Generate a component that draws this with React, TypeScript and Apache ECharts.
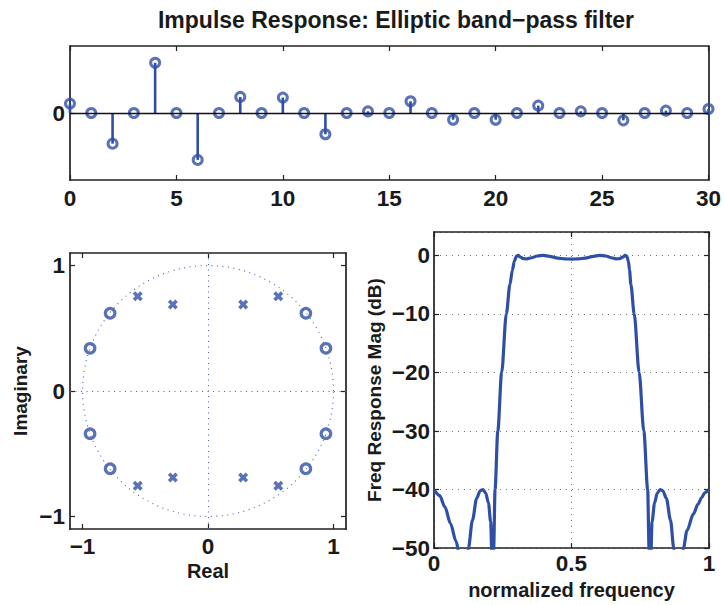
import React, { useEffect, useRef } from "react";
import * as echarts from "echarts";

// ---------- data ----------
const stemN = [0, 1, 2, 3, 4, 5, 6, 7, 8, 9, 10, 11, 12, 13, 14, 15, 16, 17, 18, 19, 20, 21, 22, 23, 24, 25, 26, 27, 28, 29, 30];
const stemH = [0.056, 0, -0.183, 0, 0.3, 0, -0.28, 0, 0.096, 0, 0.092, 0, -0.127, 0, 0.01, 0, 0.07, 0, -0.04, 0, -0.04, 0, 0.044, 0, 0.01, 0, -0.044, 0, 0.014, 0, 0.024];

const zerosRe = [0.94, 0.78, -0.78, -0.94, -0.94, -0.78, 0.78, 0.94];
const zerosIm = [0.34, 0.62, 0.62, 0.34, -0.34, -0.62, -0.62, -0.34];
const polesRe = [0.56, 0.28, -0.28, -0.56, -0.56, -0.28, 0.28, 0.56];
const polesIm = [0.755, 0.69, 0.69, 0.755, -0.755, -0.69, -0.69, -0.755];

const freqF = [
  0.0, 0.02, 0.04, 0.06, 0.08, 0.092, 0.105, 0.118, 0.125, 0.14, 0.155, 0.168, 0.178, 0.188, 0.198, 0.206, 0.211, 0.214, 0.217,
  0.222, 0.232, 0.246, 0.263, 0.276, 0.285, 0.292, 0.3, 0.306, 0.315, 0.325, 0.338, 0.355, 0.375, 0.398, 0.42, 0.45, 0.475, 0.5,
  0.525, 0.55, 0.58, 0.602, 0.625, 0.645, 0.662, 0.675, 0.686, 0.695, 0.701, 0.707, 0.711, 0.716, 0.728, 0.746, 0.763, 0.777,
  0.782, 0.785, 0.788, 0.793, 0.802, 0.812, 0.822, 0.832, 0.845, 0.86, 0.872, 0.888, 0.907, 0.92, 0.943, 0.96, 0.973, 0.985, 1.0,
];
const freqDb = [
  -40, -41, -43, -45.8, -48.8, -51, -75, -52, -50, -45.2, -41.5, -40.2, -40, -40.6, -42.3, -45.5, -52, -75, -50,
  -40, -30, -20, -10, -5, -2.5, -1, -0.1, 0, -0.3, -0.55, -0.6, -0.4, -0.1, 0, -0.15, -0.45, -0.6, -0.62,
  -0.6, -0.45, -0.15, 0, -0.1, -0.4, -0.6, -0.55, -0.3, 0, -0.1, -1, -2.5, -5, -10, -20, -30, -40,
  -50, -75, -52, -45.5, -42.3, -40.6, -40, -40.2, -41.5, -45.2, -50, -75, -50, -47, -44.2, -42.5, -41.4, -40.5, -40,
];

const zTicks = [-1, 0, 1];

// ---------- styles ----------
const BLUE = "#2f4fa6";
const AX = "#222";
const FONT = "Liberation Sans, Arial, sans-serif";
const fmt = (v: number) => (v < 0 ? "\u2212" + String(Math.abs(v)) : String(v));

const axLine = { show: true, onZero: false, lineStyle: { color: AX, width: 1.7 } };
const tick = { show: true, inside: true, length: 5, lineStyle: { color: AX, width: 1.2 } };
const lbl = (margin: number) => ({ show: true, color: "#1a1a1a", fontSize: 22.5, fontWeight: "bold" as const, fontFamily: FONT, margin, formatter: fmt });
const nameX = { color: "#1a1a1a", fontSize: 20, fontWeight: "bold" as const, fontFamily: FONT };
const nameY = { color: "#1a1a1a", fontSize: 19, fontWeight: "bold" as const, fontFamily: FONT };

export default function App() {
  const ref = useRef<HTMLDivElement>(null);
  useEffect(() => {
    if (!ref.current) return;
    const chart = echarts.init(ref.current, null, { renderer: "svg" });

    // unit-circle guide for the pole/zero plot
    const circle: number[][] = [];
    for (let i = 0; i <= 180; i++) {
      const a = (i / 180) * 2 * Math.PI;
      circle.push([Math.cos(a), Math.sin(a)]);
    }

    const option: any = {
      animation: false,
      backgroundColor: "#fff",
      textStyle: { fontFamily: FONT },
      title: {
        text: "Impulse Response: Elliptic band\u2212pass filter",
        left: 396,
        top: 8,
        textAlign: "center",
        padding: 0,
        textStyle: { fontSize: 23, fontWeight: "bold", color: "#1a1a1a", fontFamily: FONT },
      },
      grid: [
        { left: 70, top: 46, width: 639, height: 134 },
        { left: 70, top: 253, width: 276, height: 276 },
        { left: 434, top: 232, width: 275, height: 319 },
      ],
      xAxis: [
        {
          gridIndex: 0, type: "value", position: "bottom", min: 0, max: 30, interval: 5,
          axisLine: axLine, axisTick: tick, axisLabel: lbl(7), splitLine: { show: false },
        },
        {
          gridIndex: 0, type: "value", position: "top", min: 0, max: 30, interval: 5,
          axisLine: axLine, axisTick: tick, axisLabel: { show: false }, splitLine: { show: false },
        },
        {
          gridIndex: 1, type: "value", position: "bottom", min: -1.1, max: 1.1,
          axisLine: axLine,
          axisTick: { ...tick, customValues: zTicks },
          axisLabel: { ...lbl(6), customValues: zTicks },
          splitLine: { show: false },
          name: "Real", nameLocation: "middle", nameGap: 32, nameTextStyle: nameX,
        },
        {
          gridIndex: 1, type: "value", position: "top", min: -1.1, max: 1.1,
          axisLine: axLine, axisTick: { ...tick, customValues: zTicks }, axisLabel: { show: false }, splitLine: { show: false },
        },
        {
          gridIndex: 2, type: "value", position: "bottom", min: 0, max: 1, interval: 0.5,
          axisLine: axLine, axisTick: tick, axisLabel: lbl(4),
          splitLine: { show: true, lineStyle: { color: "#777", width: 1, type: [1, 5] } },
          name: "normalized frequency", nameLocation: "middle", nameGap: 31, nameTextStyle: nameX,
        },
        {
          gridIndex: 2, type: "value", position: "top", min: 0, max: 1, interval: 0.5,
          axisLine: axLine, axisTick: tick, axisLabel: { show: false }, splitLine: { show: false },
        },
      ],
      yAxis: [
        {
          gridIndex: 0, type: "value", position: "left", min: -0.4, max: 0.4,
          axisLine: axLine, axisTick: { ...tick, customValues: [0] },
          axisLabel: { ...lbl(5), customValues: [0] }, splitLine: { show: false },
        },
        {
          gridIndex: 0, type: "value", position: "right", min: -0.4, max: 0.4,
          axisLine: axLine, axisTick: { ...tick, customValues: [0] }, axisLabel: { show: false }, splitLine: { show: false },
        },
        {
          gridIndex: 1, type: "value", position: "left", min: -1.1, max: 1.1,
          axisLine: axLine,
          axisTick: { ...tick, customValues: zTicks },
          axisLabel: { ...lbl(5), customValues: zTicks },
          splitLine: { show: false },
          name: "Imaginary", nameLocation: "middle", nameGap: 40, nameTextStyle: nameY,
        },
        {
          gridIndex: 1, type: "value", position: "right", min: -1.1, max: 1.1,
          axisLine: axLine, axisTick: { ...tick, customValues: zTicks }, axisLabel: { show: false }, splitLine: { show: false },
        },
        {
          gridIndex: 2, type: "value", position: "left", min: -50, max: 4, interval: 10,
          axisLine: axLine, axisTick: tick, axisLabel: { ...lbl(4), showMaxLabel: false },
          splitLine: { show: true, lineStyle: { color: "#777", width: 1, type: [1, 5] } },
          name: "Freq Response Mag (dB)", nameLocation: "middle", nameGap: 50, nameTextStyle: nameY,
        },
        {
          gridIndex: 2, type: "value", position: "right", min: -50, max: 4, interval: 10,
          axisLine: axLine, axisTick: tick, axisLabel: { show: false }, splitLine: { show: false },
        },
      ],
      series: [
        {
          type: "bar",
          xAxisIndex: 0,
          yAxisIndex: 0,
          data: stemN.map((n, i) => [n, stemH[i]]),
          barWidth: 2.6,
          itemStyle: { color: BLUE },
          silent: true,
          markLine: {
            silent: true,
            symbol: "none",
            label: { show: false },
            lineStyle: { color: "#111", width: 1.3, type: "solid" },
            data: [{ yAxis: 0 }],
          },
          z: 2,
        },
        {
          type: "scatter",
          xAxisIndex: 0,
          yAxisIndex: 0,
          data: stemN.map((n, i) => [n, stemH[i]]),
          symbol: "circle",
          symbolSize: 9,
          clip: false,
          itemStyle: { color: "rgba(0,0,0,0)", borderColor: BLUE, borderWidth: 3 },
          z: 4,
        },
        {
          type: "line",
          xAxisIndex: 2,
          yAxisIndex: 2,
          data: circle,
          showSymbol: false,
          symbol: "none",
          lineStyle: { color: "#4a63b8", width: 1.1, type: [1, 4.5] },
          markLine: {
            silent: true,
            symbol: "none",
            label: { show: false },
            lineStyle: { color: "#4a63b8", width: 1.1, type: [1, 4.5] },
            data: [{ xAxis: 0 }, { yAxis: 0 }],
          },
          z: 2,
        },
        {
          type: "scatter",
          xAxisIndex: 2,
          yAxisIndex: 2,
          data: zerosRe.map((r, i) => [r, zerosIm[i]]),
          symbol: "circle",
          symbolSize: 9.5,
          itemStyle: { color: "rgba(0,0,0,0)", borderColor: BLUE, borderWidth: 3.2 },
          z: 4,
        },
        {
          type: "scatter",
          xAxisIndex: 2,
          yAxisIndex: 2,
          data: polesRe.map((r, i) => [r, polesIm[i]]),
          symbol: "path://M0,2.5L2.5,0L5,2.5L7.5,0L10,2.5L7.5,5L10,7.5L7.5,10L5,7.5L2.5,10L0,7.5L2.5,5Z",
          symbolSize: 10,
          itemStyle: { color: BLUE },
          z: 4,
        },
        {
          type: "line",
          xAxisIndex: 4,
          yAxisIndex: 4,
          data: freqF.map((f, i) => [f, freqDb[i]]),
          showSymbol: false,
          symbol: "none",
          smooth: 0.3,
          smoothMonotone: "x",
          clip: true,
          lineStyle: { color: BLUE, width: 3.2 },
          z: 3,
        },
      ],
    };
    chart.setOption(option);
    return () => chart.dispose();
  }, []);

  return (
    <div
      ref={ref}
      style={{ position: "fixed", left: 0, top: 0, width: 724, height: 605, background: "#fff" }}
    />
  );
}
